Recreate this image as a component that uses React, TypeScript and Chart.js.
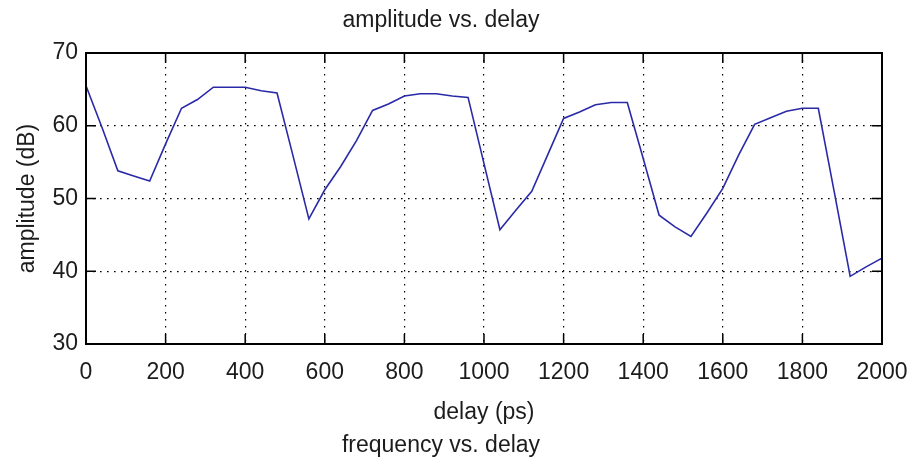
import React, { useEffect, useRef } from 'react';
import { Chart, registerables } from 'chart.js';

Chart.register(...registerables);

// ---- data ----
const delays = [
  0, 40, 80, 120, 160, 200, 240, 280, 320, 360, 400, 440, 480, 520, 560, 600, 640,
  680, 720, 760, 800, 840, 880, 920, 960, 1000, 1040, 1080, 1120, 1160, 1200, 1240,
  1280, 1320, 1360, 1400, 1440, 1480, 1520, 1560, 1600, 1640, 1680, 1720, 1760, 1800,
  1840, 1880, 1920, 1960, 2000,
];
const amplitude = [
  65.5, 59.8, 53.8, 53.1, 52.4, 57.5, 62.4, 63.6, 65.3, 65.3, 65.3, 64.8, 64.5, 55.9,
  47.2, 51.2, 54.4, 58.0, 62.1, 63.0, 64.1, 64.4, 64.4, 64.1, 63.9, 54.8, 45.7, 48.4,
  51.0, 56.0, 61.0, 61.9, 62.9, 63.2, 63.2, 55.5, 47.7, 46.1, 44.8, 48.0, 51.4, 56.0,
  60.2, 61.1, 62.0, 62.4, 62.4, 50.9, 39.3, 40.6, 41.8,
];
const xTicks = [0, 200, 400, 600, 800, 1000, 1200, 1400, 1600, 1800, 2000];
const yTicks = [30, 40, 50, 60, 70];

const titleText = 'amplitude vs. delay';
const xTitle = 'delay (ps)';
const yTitle = 'amplitude (dB)';
const nextTitle = 'frequency vs. delay';

const FONT = "'Liberation Sans', Arial, Helvetica, sans-serif";
const FS = 23;
const TEXT = '#1c1c1c';
const LINE = '#2a2aa8';
const TICK_LEN = 10;

const framePlugin = {
  id: 'matlabFrame',
  afterDatasetsDraw(chart: any) {
    const { ctx, chartArea: a, scales } = chart;
    const xs = scales.x;
    const ys = scales.y;
    ctx.save();
    ctx.strokeStyle = '#000';
    ctx.lineWidth = 1.5;
    ctx.beginPath();
    xTicks.forEach((v) => {
      const px = xs.getPixelForValue(v);
      ctx.moveTo(px, a.bottom);
      ctx.lineTo(px, a.bottom - TICK_LEN);
      ctx.moveTo(px, a.top);
      ctx.lineTo(px, a.top + TICK_LEN);
    });
    yTicks.forEach((v) => {
      const py = ys.getPixelForValue(v);
      ctx.moveTo(a.left, py);
      ctx.lineTo(a.left + TICK_LEN, py);
      ctx.moveTo(a.right, py);
      ctx.lineTo(a.right - TICK_LEN, py);
    });
    ctx.stroke();
    ctx.lineWidth = 2;
    ctx.strokeRect(a.left, a.top, a.right - a.left, a.bottom - a.top);
    ctx.restore();
  },
};

export default function App() {
  const canvasRef = useRef<HTMLCanvasElement | null>(null);

  useEffect(() => {
    document.body.style.margin = '0';
    const canvas = canvasRef.current;
    if (!canvas) return;
    const chart = new Chart(canvas, {
      type: 'line',
      data: {
        datasets: [
          {
            data: delays.map((d, i) => ({ x: d, y: amplitude[i] })),
            borderColor: LINE,
            borderWidth: 1.6,
            pointRadius: 0,
            tension: 0,
            fill: false,
          },
        ],
      },
      options: {
        animation: false,
        responsive: true,
        maintainAspectRatio: false,
        layout: { padding: { left: 0, right: 36, top: 0, bottom: 0 } },
        plugins: {
          legend: { display: false },
          tooltip: { enabled: false },
          title: {
            display: true,
            text: titleText,
            color: TEXT,
            font: { family: FONT, size: FS, weight: 'normal' },
            padding: { top: 7.2, bottom: 18.2 },
          },
          subtitle: {
            display: true,
            position: 'bottom',
            text: nextTitle,
            color: TEXT,
            font: { family: FONT, size: FS, weight: 'normal' },
            padding: { top: 0, bottom: 2 },
          },
        },
        scales: {
          x: {
            type: 'linear',
            min: 0,
            max: 2000,
            afterBuildTicks: (s: any) => {
              s.ticks = xTicks.map((v) => ({ value: v }));
            },
            afterFit: (s: any) => {
              s.height = 87.4;
              s.paddingLeft = 0;
              s.paddingRight = 0;
            },
            ticks: {
              color: TEXT,
              font: { family: FONT, size: FS },
              padding: 14.7,
              maxRotation: 0,
              autoSkip: false,
              callback: (v: any) => String(v),
            },
            grid: { color: '#000', lineWidth: 1.2, drawTicks: false },
            border: { display: false, dash: [1.6, 5.4] },
            title: {
              display: true,
              text: xTitle,
              color: TEXT,
              font: { family: FONT, size: FS },
              padding: { top: 0, bottom: 5 },
            },
          },
          y: {
            type: 'linear',
            min: 30,
            max: 70,
            afterBuildTicks: (s: any) => {
              s.ticks = yTicks.map((v) => ({ value: v }));
            },
            afterFit: (s: any) => {
              s.width = 86;
              s.paddingTop = 0;
              s.paddingBottom = 0;
            },
            ticks: {
              color: TEXT,
              font: { family: FONT, size: FS },
              padding: 8,
              autoSkip: false,
              callback: (v: any) => String(v),
            },
            grid: { color: '#000', lineWidth: 1.2, drawTicks: false },
            border: { display: false, dash: [1.6, 5.4] },
            title: {
              display: true,
              text: yTitle,
              color: TEXT,
              font: { family: FONT, size: FS },
              padding: { top: 13.6, bottom: 0 },
            },
          },
        },
      },
      plugins: [framePlugin],
    });
    return () => chart.destroy();
  }, []);

  return (
    <div style={{ width: 918, height: 461, position: 'relative', background: '#fff' }}>
      <canvas ref={canvasRef} />
    </div>
  );
}
